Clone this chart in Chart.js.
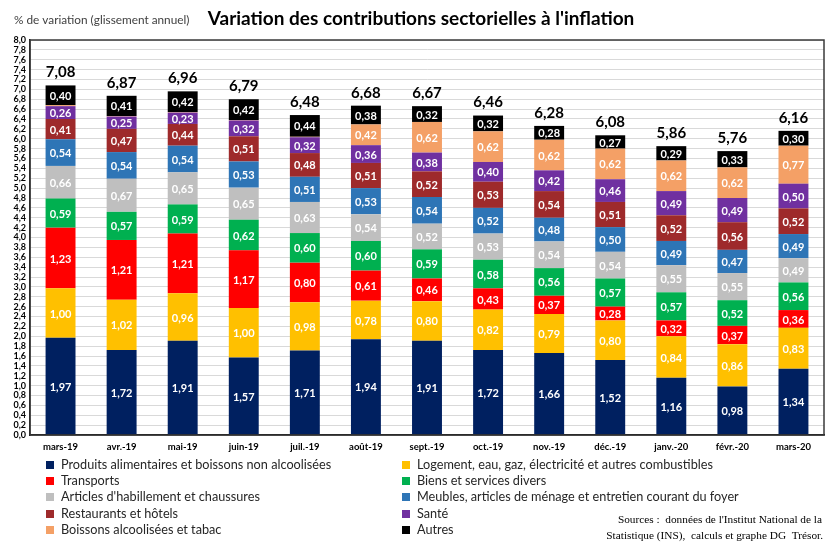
<!DOCTYPE html>
<html>
<head>
<meta charset="utf-8">
<script src="https://cdn.jsdelivr.net/npm/chart.js@4.4.1/dist/chart.umd.min.js"></script>
<style>
  body { margin: 0; background: #fff; }
</style>
</head>
<body>
<canvas id="myChart" width="833" height="542"></canvas>
<script>
var Months = ["mars-19","avr.-19","mai-19","juin-19","juil.-19","août-19","sept.-19","oct.-19","nov.-19","déc.-19","janv.-20","févr.-20","mars-20"];

var Alimentaires = [1.97,1.72,1.91,1.57,1.71,1.94,1.91,1.72,1.66,1.52,1.16,0.98,1.34];
var Logement =     [1.00,1.02,0.96,1.00,0.98,0.78,0.80,0.82,0.79,0.80,0.84,0.86,0.83];
var Transports =   [1.23,1.21,1.21,1.17,0.80,0.61,0.46,0.43,0.37,0.28,0.32,0.37,0.36];
var Biens =        [0.59,0.57,0.59,0.62,0.60,0.60,0.59,0.58,0.56,0.57,0.57,0.52,0.56];
var Habillement =  [0.66,0.67,0.65,0.65,0.63,0.54,0.52,0.53,0.54,0.54,0.55,0.55,0.49];
var Meubles =      [0.54,0.54,0.54,0.53,0.51,0.53,0.54,0.52,0.48,0.50,0.49,0.47,0.49];
var Restaurants =  [0.41,0.47,0.44,0.51,0.48,0.51,0.52,0.53,0.54,0.51,0.52,0.56,0.52];
var Sante =        [0.26,0.25,0.23,0.32,0.32,0.36,0.38,0.40,0.42,0.46,0.49,0.49,0.50];
var Boissons =     [0.02,0.01,0.01,0.01,0.01,0.42,0.62,0.62,0.62,0.62,0.62,0.62,0.77];
var Autres =       [0.40,0.41,0.42,0.42,0.44,0.38,0.32,0.32,0.28,0.27,0.29,0.33,0.30];
var Totals =       [7.08,6.87,6.96,6.79,6.48,6.68,6.67,6.46,6.28,6.08,5.86,5.76,6.16];

var FONT = "Lato, 'Noto Sans', sans-serif";

function fmt(v, d) {
  return v.toFixed(d).replace('.', ',');
}

// labels, title, legend and source drawn on the canvas
var extras = {
  id: 'extras',
  afterDatasetsDraw: function(chart) {
    var ctx = chart.ctx;
    var area = chart.chartArea;
    ctx.save();
    ctx.textAlign = 'center';
    ctx.textBaseline = 'middle';
    ctx.fillStyle = '#ffffff';
    ctx.font = "bold 11px " + FONT;
    chart.data.datasets.forEach(function(ds, i) {
      var meta = chart.getDatasetMeta(i);
      meta.data.forEach(function(bar, j) {
        var v = ds.data[j];
        if (v < 0.1) return;
        ctx.fillText(fmt(v, 2), bar.x, (bar.y + bar.base) / 2 + 1);
      });
    });
    // totals above stacks
    var last = chart.getDatasetMeta(chart.data.datasets.length - 1);
    ctx.fillStyle = '#000000';
    ctx.font = "bold 15px " + FONT;
    last.data.forEach(function(bar, j) {
      ctx.fillText(fmt(Totals[j], 2), bar.x, bar.y - 13);
    });
    // plot frame
    ctx.strokeStyle = '#3a3a3a';
    ctx.lineWidth = 1.5;
    ctx.strokeRect(area.left, area.top, area.right - area.left, area.bottom - area.top);
    ctx.restore();
  },
  afterDraw: function(chart) {
    var ctx = chart.ctx;
    ctx.save();
    ctx.textBaseline = 'middle';
    ctx.textAlign = 'left';
    ctx.fillStyle = '#404040';
    ctx.font = "11.8px " + FONT;
    ctx.fillText("% de variation (glissement annuel)", 14, 20);
    ctx.fillStyle = '#000000';
    ctx.font = "bold 19px " + FONT;
    ctx.textAlign = 'center';
    ctx.fillText("Variation des contributions sectorielles à l'inflation", 421, 19);

    // x category labels
    ctx.font = "bold 9.5px " + FONT;
    var meta0 = chart.getDatasetMeta(0);
    meta0.data.forEach(function(bar, j) {
      ctx.fillText(Months[j], bar.x, 447);
    });

    // legend, two columns
    ctx.textAlign = 'left';
    ctx.font = "12.7px " + FONT;
    var rows = [465, 481, 497, 514, 530];
    chart.data.datasets.forEach(function(ds, i) {
      var col = i % 2, row = Math.floor(i / 2);
      var bx = col === 0 ? 46 : 402;
      var y = rows[row];
      ctx.fillStyle = ds.backgroundColor;
      ctx.fillRect(bx, y - 4, 8, 8);
      ctx.fillStyle = '#262626';
      ctx.fillText(ds.label, bx + 15, y);
    });

    ctx.fillStyle = '#000000';
    ctx.font = "11.3px 'Liberation Serif', 'DejaVu Serif', serif";
    ctx.textAlign = 'right';
    ctx.fillText("Sources :  données de l'Institut National de la", 822, 520);
    ctx.fillText("Statistique (INS),  calculs et graphe DG  Trésor.", 823, 536);
    ctx.restore();
  }
};

var ctx = document.getElementById("myChart");
var myChart = new Chart(ctx, {
  type: 'bar',
  data: {
    labels: Months,
    datasets: [
      { label: "Produits alimentaires et boissons non alcoolisées", data: Alimentaires, backgroundColor: "#002060" },
      { label: "Logement, eau, gaz, électricité et autres combustibles", data: Logement, backgroundColor: "#FFC000" },
      { label: "Transports", data: Transports, backgroundColor: "#FF0000" },
      { label: "Biens et services divers", data: Biens, backgroundColor: "#00B050" },
      { label: "Articles d'habillement et chaussures", data: Habillement, backgroundColor: "#BFBFBF" },
      { label: "Meubles, articles de ménage et entretien courant du foyer", data: Meubles, backgroundColor: "#2E75B6" },
      { label: "Restaurants et hôtels", data: Restaurants, backgroundColor: "#9E2A2B" },
      { label: "Santé", data: Sante, backgroundColor: "#7030A0" },
      { label: "Boissons alcoolisées et tabac", data: Boissons, backgroundColor: "#F4A066" },
      { label: "Autres", data: Autres, backgroundColor: "#000000" }
    ]
  },
  options: {
    responsive: false,
    animation: false,
    layout: { padding: { left: 0, right: 9, top: 40, bottom: 87 } },
    datasets: { bar: { categoryPercentage: 1, barPercentage: 0.49 } },
    plugins: {
      legend: { display: false },
      tooltip: { enabled: false },
      title: { display: false }
    },
    scales: {
      x: {
        stacked: true,
        grid: { display: false },
        border: { color: '#000000', width: 1.5 },
        ticks: { display: false },
        afterFit: function(scale) { scale.height = 20; }
      },
      y: {
        stacked: true,
        min: 0,
        max: 8,
        grid: { color: '#D9D9D9', lineWidth: 1, drawTicks: false },
        border: { color: '#000000', width: 1.5 },
        ticks: {
          stepSize: 0.2,
          maxTicksLimit: 50,
          autoSkip: false,
          color: '#000000',
          padding: 4,
          font: { family: FONT, size: 9, weight: 'bold' },
          callback: function(v) { return fmt(v, 1); }
        },
        afterFit: function(scale) { scale.width = 30; }
      }
    }
  },
  plugins: [extras]
});
</script>
</body>
</html>
